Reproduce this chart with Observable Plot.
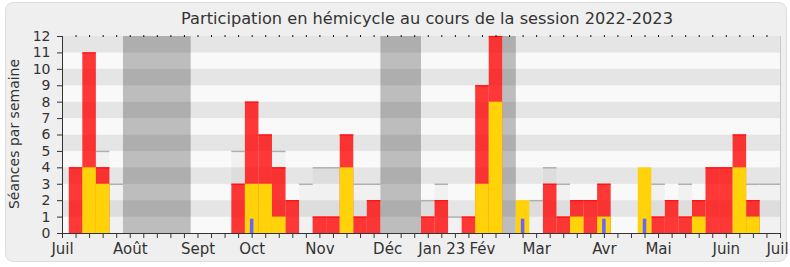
<!DOCTYPE html>
<html>
<head>
<meta charset="utf-8">
<script src="https://cdn.jsdelivr.net/npm/d3@7"></script>
<script src="https://cdn.jsdelivr.net/npm/@observablehq/plot@0.6"></script>
<style>
  html, body { margin: 0; padding: 0; background: #ffffff; }
  #wrap { position: relative; width: 790px; height: 267px; overflow: hidden; font-family: "DejaVu Sans", sans-serif; }
  #panel { position: absolute; left: 5px; top: 2px; width: 782px; height: 260px; box-sizing: border-box;
           background: #efefef; border: 1px solid #dddddd; border-radius: 8px; }
  #title { position: absolute; top: 9px; left: 427px; transform: translateX(-50%); white-space: nowrap;
           font-size: 16.2px; color: #333; }
  #ylabel { position: absolute; left: 14px; top: 134px; transform: translate(-50%, -50%) rotate(-90deg);
            white-space: nowrap; font-size: 14px; color: #333; }
  #chart { position: absolute; left: 0; top: 30px; }
</style>
</head>
<body>
<div id="wrap">
  <div id="panel"></div>
  <div id="title">Participation en hémicycle au cours de la session 2022-2023</div>
  <div id="ylabel">Séances par semaine</div>
  <div id="chart"></div>
</div>
<script>
// Weekly values, week 1 .. week 53 (week 0 = start of July 2022)
const presence      = [4,11,4,0,0,0,0,0,0,0,0,0,3,8,6,4,2,0,1,1,6,1,2,0,0,0,1,2,0,1,9,12,0,0,0,3,1,2,2,3,0,0,0,1,2,1,2,4,4,6,2,0,0];
const interventions = [0,4,3,0,0,0,0,0,0,0,0,0,0,3,3,1,0,0,0,0,4,0,0,0,0,0,0,0,0,0,3,8,0,2,0,0,0,1,0,1,0,0,4,0,0,0,1,0,0,4,1,0,0];
const questionWeeks = [14, 34, 40, 43];
const questionValues = [0.87, 0.87, 0.87, 0.87];
const median        = [null,null,5,3,null,null,null,null,null,null,null,null,5,null,null,5,null,3,4,4,null,3,3,null,null,null,2,3,1,null,null,null,null,null,2,4,3,null,null,null,null,null,null,3,null,3,null,null,null,null,3,3,3];
const vacStart = [5, 24, 33];
const vacEnd   = [9, 26, 33];
const yTicks = [0,1,2,3,4,5,6,7,8,9,10,11,12];
const xLabelWeeks = [0,5,10,14,19,24,28,31,35,40,44,49,53];
const xLabels = ["Juil","Août","Sept","Oct","Nov","Déc","Jan 23","Fév","Mar","Avr","Mai","Juin","Juil"];
const nWeeks = 53;

const rows = presence.map((p, i) => ({week: i + 1, presence: p, interventions: interventions[i], median: median[i]}));
const qRows = questionWeeks.map((w, i) => ({week: w, value: questionValues[i]}));
const vac = vacStart.map((s, i) => ({start: s, end: vacEnd[i]}));
const stripes = yTicks.slice(0, -1).map((t, i) => ({y1: t, y2: yTicks[i + 1], odd: i % 2 === 1}));
const xLab = xLabelWeeks.map((w, i) => ({week: w, label: xLabels[i]}));
const allWeekTicks = d3.range(0, nWeeks + 1);

const chart = Plot.plot({
  width: 790,
  height: 237,
  marginTop: 6,
  marginBottom: 34,
  marginLeft: 62,
  marginRight: 10,
  x: {domain: [0, nWeeks]},
  y: {domain: [0, 12]},
  style: {fontFamily: "DejaVu Sans, sans-serif", fontSize: "15px", color: "#333", background: "transparent", overflow: "visible"},
  marks: [
    Plot.rect(stripes, {x1: 0, x2: nWeeks, y1: "y1", y2: "y2", fill: d => d.odd ? "#e5e5e5" : "#f9f9f9"}),
    Plot.rect(rows.filter(d => d.median != null), {
      x1: d => d.week - 0.5, x2: d => Math.min(d.week + 0.5, nWeeks), y1: 0, y2: "median",
      fill: "#000", fillOpacity: 0.03}),
    Plot.ruleY(rows.filter(d => d.median != null), {
      x1: d => d.week - 0.5, x2: d => Math.min(d.week + 0.5, nWeeks), y: "median",
      stroke: "#b0b0b0", strokeWidth: 1.5}),
    Plot.rect(vac, {x1: d => d.start - 0.5, x2: d => d.end + 0.5, y1: 0, y2: 12, fill: "#000", fillOpacity: 0.24}),
    Plot.rect(rows.filter(d => d.presence > 0), {
      x1: d => d.week - 0.5, x2: d => d.week + 0.5, y1: 0, y2: "presence",
      fill: "#ff0000", fillOpacity: 0.78}),
    Plot.ruleY(rows.filter(d => d.presence > 0), {
      x1: d => d.week - 0.5, x2: d => d.week + 0.5, y: "presence", stroke: "#ff1010", strokeWidth: 1.2}),
    Plot.rect(rows.filter(d => d.interventions > 0), {
      x1: d => d.week - 0.5, x2: d => d.week + 0.5, y1: 0, y2: "interventions", fill: "#ffd20a"}),
    Plot.rect(qRows, {x1: d => d.week - 0.13, x2: d => d.week + 0.13, y1: 0, y2: "value", fill: "#6666ff"}),
    Plot.ruleX([nWeeks], {stroke: "#c8c8c8"}),
    Plot.axisY({ticks: yTicks, tickSize: 5, tickPadding: 7, fontSize: 14, label: null, stroke: "#333", color: "#333"}),
    Plot.axisX({ticks: allWeekTicks, tickSize: 5, tickFormat: () => "", label: null, stroke: "#333"}),
    Plot.text(xLab.slice(0, -1), {x: "week", y: 0, text: "label", dy: 16, fontSize: 15, fill: "#333"}),
    Plot.text(xLab.slice(-1), {x: "week", y: 0, text: "label", dy: 16, dx: -3, fontSize: 15, fill: "#333"}),
    Plot.axisX({anchor: "top", ticks: allWeekTicks.slice(1, -1), tickSize: 2, tickFormat: () => "", label: null, stroke: "#111"}),
    Plot.ruleX([0], {stroke: "#333"}),
    Plot.ruleY([0], {stroke: "#333"})
  ]
});
document.getElementById("chart").appendChild(chart);
</script>
</body>
</html>
